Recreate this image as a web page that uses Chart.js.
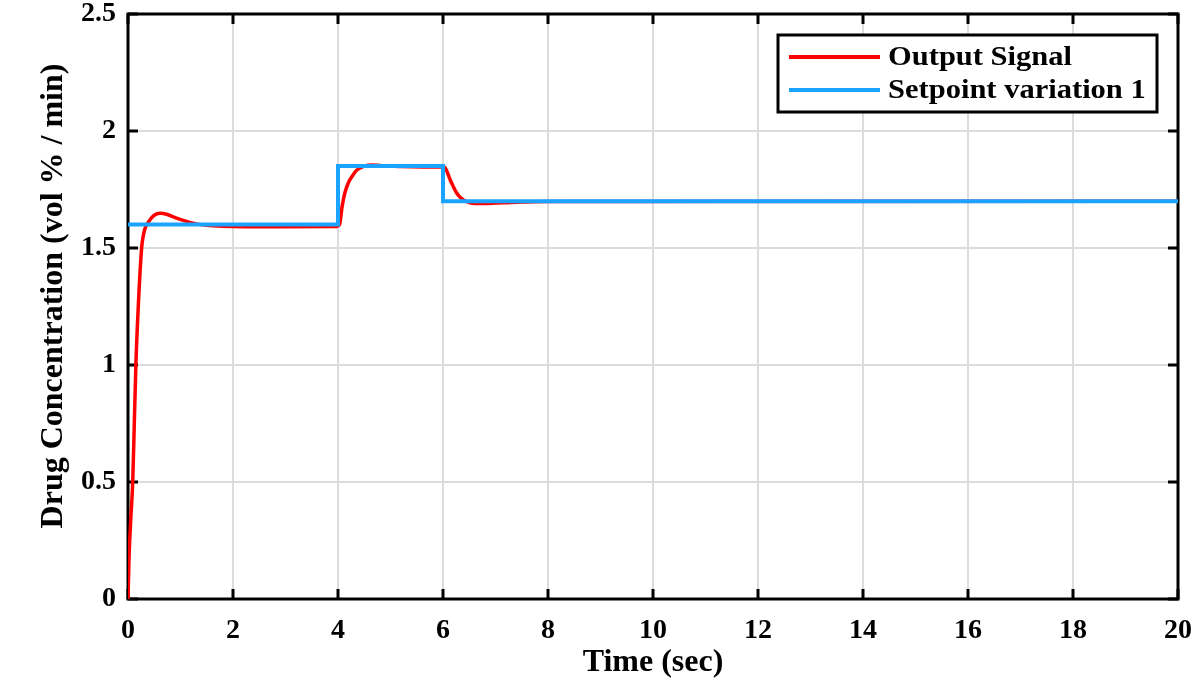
<!DOCTYPE html>
<html>
<head>
<meta charset="utf-8">
<script src="https://cdn.jsdelivr.net/npm/chart.js@4.4.1/dist/chart.umd.min.js"></script>
<style>
  html, body { margin: 0; padding: 0; background: #fff; }
  #wrap { width: 1200px; height: 688px; }
</style>
</head>
<body>
<div id="wrap"><canvas id="response-chart" width="1200" height="688"></canvas></div>
<script>
// values
const outputTime = [0, 0.02, 0.05, 0.09, 0.12, 0.15, 0.2, 0.26, 0.32, 0.4, 0.5, 0.61, 0.75, 0.9, 1.1, 1.3, 1.5, 1.8, 2.2, 3, 3.98,
    4.03, 4.08, 4.13, 4.2, 4.28, 4.36, 4.5, 4.65, 4.8, 5.2, 5.6, 6.0,
    6.04, 6.08, 6.13, 6.18, 6.26, 6.35, 6.45, 6.6, 6.8, 7.0, 7.4, 8, 20];
const outputValue = [0, 0.18, 0.33, 0.5, 0.75, 1.0, 1.27, 1.5, 1.58, 1.615, 1.64, 1.648, 1.643, 1.63, 1.615, 1.603, 1.597, 1.593, 1.591, 1.591, 1.592,
    1.6, 1.68, 1.735, 1.78, 1.81, 1.833, 1.85, 1.855, 1.853, 1.848, 1.846, 1.846,
    1.843, 1.825, 1.795, 1.77, 1.735, 1.712, 1.698, 1.69, 1.69, 1.692, 1.696, 1.699, 1.7];
const setpointTime = [0, 4, 4, 6, 6, 20];
const setpointValue = [1.6, 1.6, 1.85, 1.85, 1.7, 1.7];
const xTicks = [0, 2, 4, 6, 8, 10, 12, 14, 16, 18, 20];
const yTicks = [0, 0.5, 1, 1.5, 2, 2.5];
const seriesLabels = ['Output Signal', 'Setpoint variation 1'];
const seriesColors = ['#ff0000', '#1aa3ff'];
const yTitle = 'Drug Concentration (vol % / min)';

const toPoints = (xs, ys) => xs.map((x, i) => ({ x: x, y: ys[i] }));
const font = 'Liberation Serif, Times New Roman, serif';

// drop the extra room chart.js keeps for the end tick labels
const noEdgePadding = scale => {
    scale.paddingTop = 0;
    scale.paddingBottom = 0;
    scale.paddingLeft = 0;
    scale.paddingRight = 0;
};

// MATLAB style box with inward ticks, the y title, and the legend inside the plot
const boxPlugin = {
    id: 'box',
    beforeDatasetsDraw(chart) {
        const { ctx, chartArea: a, scales } = chart;
        ctx.save();
        ctx.strokeStyle = '#000';
        ctx.lineWidth = 3;
        ctx.beginPath();
        xTicks.forEach(t => {
            const px = scales.x.getPixelForValue(t);
            ctx.moveTo(px, a.bottom); ctx.lineTo(px, a.bottom - 10);
            ctx.moveTo(px, a.top); ctx.lineTo(px, a.top + 10);
        });
        yTicks.forEach(t => {
            const py = scales.y.getPixelForValue(t);
            ctx.moveTo(a.left, py); ctx.lineTo(a.left + 10, py);
            ctx.moveTo(a.right, py); ctx.lineTo(a.right - 10, py);
        });
        ctx.stroke();
        ctx.strokeRect(a.left, a.top, a.right - a.left, a.bottom - a.top);

        ctx.translate(54, 296);
        ctx.rotate(-Math.PI / 2);
        ctx.font = 'bold 32px ' + font;
        ctx.fillStyle = '#000';
        ctx.textAlign = 'center';
        ctx.textBaseline = 'middle';
        ctx.fillText(yTitle, 0, 0);
        ctx.restore();
    },
    afterDraw(chart) {
        const ctx = chart.ctx;
        const bx = 778, by = 35, bw = 379, bh = 77;
        ctx.save();
        ctx.fillStyle = '#fff';
        ctx.fillRect(bx, by, bw, bh);
        ctx.strokeStyle = '#000';
        ctx.lineWidth = 3;
        ctx.strokeRect(bx, by, bw, bh);
        ctx.font = 'bold 28px ' + font;
        ctx.textBaseline = 'middle';
        ctx.fillStyle = '#000';
        seriesLabels.forEach((label, i) => {
            const y = by + 22 + i * 33;
            ctx.strokeStyle = seriesColors[i];
            ctx.lineWidth = 4;
            ctx.beginPath();
            ctx.moveTo(789, y); ctx.lineTo(880, y);
            ctx.stroke();
            // the reference text is a little stretched sideways
            ctx.save();
            ctx.translate(888, y + 1);
            ctx.scale(1.09, 1);
            ctx.fillText(label, 0, 0);
            ctx.restore();
        });
        ctx.restore();
    }
};

const ctx = document.getElementById('response-chart').getContext('2d');
const myChart = new Chart(ctx, {
    type: 'line',
    data: {
        datasets: [{
            label: seriesLabels[0],
            data: toPoints(outputTime, outputValue),
            borderColor: seriesColors[0],
            borderWidth: 3.5,
            pointRadius: 0,
            cubicInterpolationMode: 'monotone',
            order: 1
        }, {
            label: seriesLabels[1],
            data: toPoints(setpointTime, setpointValue),
            borderColor: seriesColors[1],
            borderWidth: 4,
            pointRadius: 0,
            tension: 0,
            order: 0
        }]
    },
    options: {
        responsive: false,
        animation: false,
        devicePixelRatio: 1,
        layout: { padding: { top: 14, right: 22, left: 0, bottom: 0 } },
        plugins: {
            legend: { display: false },
            tooltip: { enabled: false }
        },
        scales: {
            x: {
                type: 'linear',
                min: 0,
                max: 20,
                afterBuildTicks: scale => { scale.ticks = xTicks.map(v => ({ value: v })); },
                afterFit: scale => { scale.height = 89; noEdgePadding(scale); },
                grid: { color: '#dcdcdc', lineWidth: 2, drawTicks: false },
                border: { display: false },
                ticks: {
                    color: '#000',
                    padding: 15,
                    font: { family: font, size: 28, weight: 'bold' },
                    callback: v => String(v)
                },
                title: {
                    display: true,
                    text: 'Time (sec)',
                    color: '#000',
                    padding: { top: 0, bottom: 6 },
                    font: { family: font, size: 32, weight: 'bold' }
                }
            },
            y: {
                type: 'linear',
                min: 0,
                max: 2.5,
                afterBuildTicks: scale => { scale.ticks = yTicks.map(v => ({ value: v })); },
                afterFit: scale => { scale.width = 128; noEdgePadding(scale); },
                grid: { color: '#dcdcdc', lineWidth: 2, drawTicks: false },
                border: { display: false },
                ticks: {
                    color: '#000',
                    padding: 12,
                    font: { family: font, size: 28, weight: 'bold' },
                    callback: v => String(v)
                }
            }
        }
    },
    plugins: [boxPlugin]
});
</script>
</body>
</html>
